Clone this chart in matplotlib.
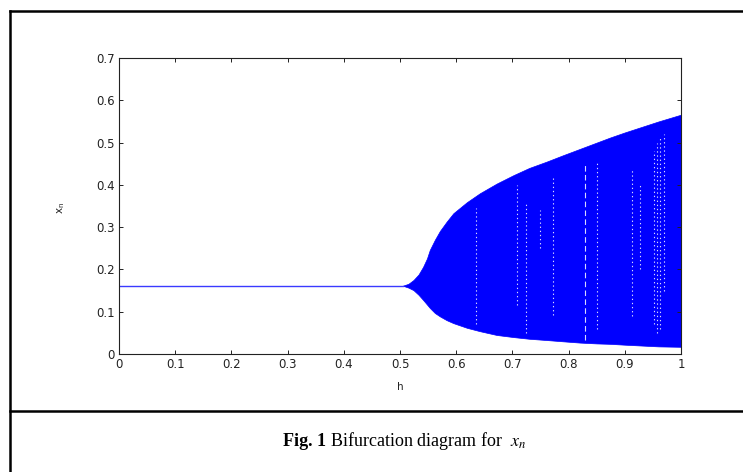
import matplotlib
matplotlib.use("Agg")
import matplotlib.pyplot as plt
from matplotlib.lines import Line2D

# ---- data ----
# fixed point branch (single line) for h < ~0.5
line_h = [0.0, 0.505]
line_x = [0.1615, 0.1615]

# upper / lower envelope of the chaotic band
env_h = [0.505, 0.515, 0.524, 0.533, 0.541, 0.548, 0.553, 0.562, 0.571, 0.583, 0.595,
         0.619, 0.642, 0.672, 0.702, 0.730, 0.761, 0.790, 0.820, 0.850, 0.874, 0.900,
         0.930, 0.960, 1.000]
env_upper = [0.1615, 0.166, 0.175, 0.188, 0.206, 0.226, 0.246, 0.270, 0.291, 0.313, 0.333,
             0.359, 0.380, 0.403, 0.423, 0.440, 0.455, 0.470, 0.485, 0.500, 0.512, 0.524,
             0.537, 0.550, 0.566]
env_lower = [0.1615, 0.157, 0.151, 0.140, 0.128, 0.117, 0.109, 0.097, 0.089, 0.080, 0.073,
             0.062, 0.054, 0.045, 0.040, 0.036, 0.033, 0.030, 0.027, 0.025, 0.024, 0.022,
             0.020, 0.018, 0.017]

# white periodic-window columns inside the band
gap_h = [0.636, 0.708, 0.725, 0.749, 0.772, 0.829, 0.850, 0.913, 0.927, 0.952, 0.958, 0.963, 0.970]
gap_lo = [0.070, 0.116, 0.050, 0.250, 0.092, 0.033, 0.060, 0.090, 0.200, 0.070, 0.050, 0.060, 0.150]
gap_hi = [0.345, 0.400, 0.360, 0.340, 0.416, 0.450, 0.455, 0.440, 0.400, 0.480, 0.500, 0.510, 0.520]
gap_dash = ["dot", "dot", "dot", "dot", "dot", "dash", "dot", "dot", "dot", "dot", "dot", "dot", "dot"]

x_ticks = [0, 0.1, 0.2, 0.3, 0.4, 0.5, 0.6, 0.7, 0.8, 0.9, 1]
x_ticklabels = ["0", "0.1", "0.2", "0.3", "0.4", "0.5", "0.6", "0.7", "0.8", "0.9", "1"]
y_ticks = [0, 0.1, 0.2, 0.3, 0.4, 0.5, 0.6, 0.7]
y_ticklabels = ["0", "0.1", "0.2", "0.3", "0.4", "0.5", "0.6", "0.7"]

caption = "Fig. 1"
caption_rest = " Bifurcation diagram for  $x_n$"

plt.rcParams["mathtext.fontset"] = "stix"

fig = plt.figure(figsize=(7.43, 4.72), dpi=100)
W, H = 743, 472

# outer frame (table-like box) and separator
lw_frame = 1.8
fig.add_artist(Line2D([10 / W, 10 / W], [0, 1 - 11 / H], color="black", lw=lw_frame, transform=fig.transFigure))
fig.add_artist(Line2D([10 / W, 1], [1 - 11 / H, 1 - 11 / H], color="black", lw=lw_frame, transform=fig.transFigure))
fig.add_artist(Line2D([10 / W, 1], [1 - 411 / H, 1 - 411 / H], color="black", lw=lw_frame, transform=fig.transFigure))

ax = fig.add_axes([119 / W, 1 - 354 / H, (681 - 119) / W, (354 - 58) / H])

ax.fill_between(env_h, env_lower, env_upper, color="#0000ff", lw=0.5, edgecolor="#0000ff")
ax.plot(line_h, line_x, color="#3a3aff", lw=1.0)

for h, lo, hi, d in zip(gap_h, gap_lo, gap_hi, gap_dash):
    ls = (0, (1.2, 2.5)) if d == "dot" else (0, (5, 3))
    ax.plot([h, h], [lo, hi], color="white", lw=0.8, ls=ls, alpha=0.85)

ax.set_xlim(0, 1)
ax.set_ylim(0, 0.7)
ax.set_xticks(x_ticks)
ax.set_xticklabels(x_ticklabels)
ax.set_yticks(y_ticks)
ax.set_yticklabels(y_ticklabels)
ax.tick_params(direction="in", length=3, width=0.7, top=True, right=True,
               labelsize=8.5, colors="#222222", pad=3)
for s in ax.spines.values():
    s.set_linewidth(0.8)
    s.set_color("#222222")

ax.set_xlabel("h", fontsize=7.5, color="#222222")
ax.xaxis.set_label_coords(0.5, -0.095)
ax.set_ylabel("x$_{\\mathregular{n}}$", fontsize=7.5, color="#222222")
ax.yaxis.set_label_coords(-0.0925, 0.493)

# caption
t1 = fig.text(283 / W, 1 - 441 / H, caption, fontsize=13, ha="left", va="center",
              family="Liberation Serif", fontweight="bold")
fig.canvas.draw()
bb = t1.get_window_extent()
fig.text(bb.x1 / W, 1 - 441 / H, caption_rest, fontsize=13, ha="left", va="center",
         family="Liberation Serif")

fig.savefig("out.png", dpi=100)
